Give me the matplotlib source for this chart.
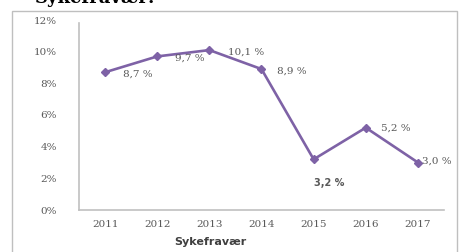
import matplotlib
matplotlib.use('Agg')
from matplotlib import pyplot as plt
from matplotlib.patches import Rectangle

years = ['2011', '2012', '2013', '2014', '2015', '2016', '2017']
values = [8.7, 9.7, 10.1, 8.9, 3.2, 5.2, 3.0]
labels = ['8,7 %', '9,7 %', '10,1 %', '8,9 %', '3,2 %', '5,2 %', '3,0 %']
yticks = [0, 2, 4, 6, 8, 10, 12]

def main():
  grey = '#595959'
  purple = '#7e62a6'
  fig = plt.figure(figsize=(4.6, 2.52), dpi=100)

  # outer chart frame
  fig.patches.append(Rectangle((12/460, -0.01), 445/460, 1 - 11/252 + 0.01,
                               transform=fig.transFigure, fill=False,
                               edgecolor='#bfbfbf', linewidth=1.0))
  # cut-off caption above the frame
  fig.text(0.075, 1.045, 'Sykefravær:', family='DejaVu Serif', weight='bold',
           fontsize=13, color='black', ha='left', va='top')

  ax = fig.add_axes([79/460, 1 - 210/252, 365/460, 190/252])
  x = list(range(len(years)))
  ax.plot(x, values, '-D', color=purple, linewidth=1.9, markersize=4.5)
  ax.set_xlim(-0.5, len(years) - 0.5)
  ax.set_ylim(0, 12)
  ax.set_xticks(x)
  ax.set_xticklabels(years)
  ax.set_yticks(yticks)
  ax.set_yticklabels([f'{t}%' for t in yticks])
  for lab in ax.get_xticklabels() + ax.get_yticklabels():
    lab.set_family('DejaVu Serif')
    lab.set_fontsize(7.5)
    lab.set_color(grey)
  ax.tick_params(axis='both', length=0)
  ax.tick_params(axis='y', pad=16)
  ax.tick_params(axis='x', pad=7)
  for s in ['top', 'right']:
    ax.spines[s].set_visible(False)
  ax.spines['left'].set_color('#c0c0c0')
  ax.spines['bottom'].set_color('#c0c0c0')
  ax.spines['left'].set_linewidth(1.2)
  ax.spines['bottom'].set_linewidth(1.2)
  ax.spines['left'].set_bounds(0, 11.8)

  offsets = [(18, -2), (18, -2), (19, -2), (16, -2), (0, -24), (15, -1), (4, 1)]
  for i, (v, t) in enumerate(zip(values, labels)):
    dx, dy = offsets[i]
    bold = i == 4
    ax.annotate(t, (x[i], v), xytext=(dx, dy), textcoords='offset pixels',
                ha='left', va='center', fontsize=7 if bold else 7.5, color=grey,
                family='DejaVu Sans' if bold else 'DejaVu Serif',
                weight='bold' if bold else 'normal')

  fig.text(210/460, 1 - 242/252, 'Sykefravær', family='DejaVu Sans', weight='bold',
           fontsize=8, color='#404040', ha='center', va='center')

  fig.savefig('out.png', dpi=100)
  plt.close()

if __name__ == '__main__':
  main()
